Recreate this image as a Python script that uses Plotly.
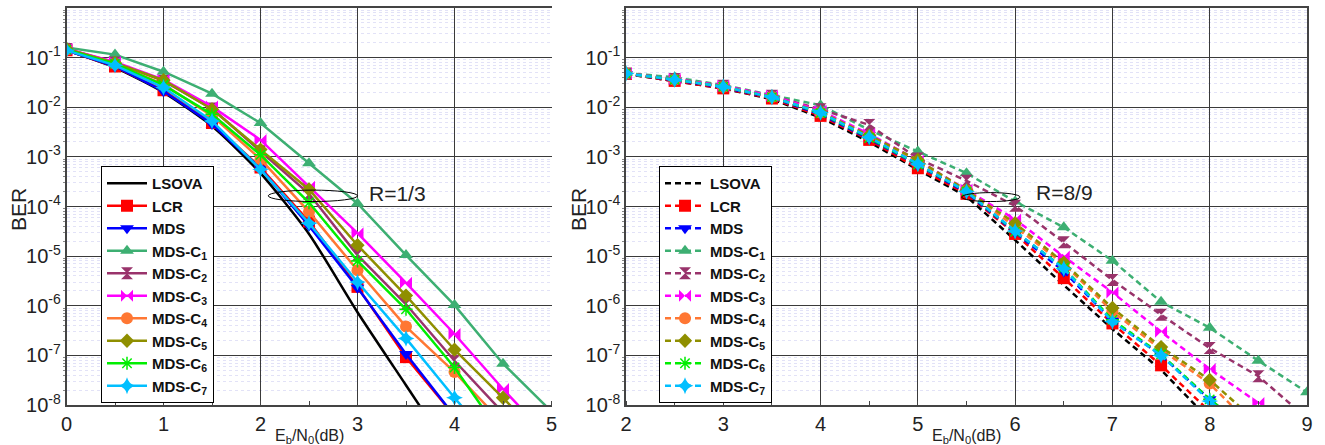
import plotly.graph_objects as go

# ---------------- data ----------------
names = ["LSOVA", "LCR", "MDS", "MDS-C1", "MDS-C2", "MDS-C3", "MDS-C4", "MDS-C5", "MDS-C6", "MDS-C7"]

# Left panel: R = 1/3
left_lsova_x = [0, 0.5, 1, 1.5, 2, 2.5, 3, 3.5, 4]
left_lsova = [0.14, 0.063, 0.020, 0.0042, 4.7e-4, 2.8e-5, 7.4e-7, 2.5e-8, 8.5e-10]
left_x = [0, 0.5, 1, 1.5, 2, 2.5, 3, 3.5, 4, 4.5, 5]
left_lcr = [0.14, 0.066, 0.022, 0.0048, 6.1e-4, 5.0e-5, 2.4e-6, 9.2e-8, 6e-9]
left_mds = [0.14, 0.067, 0.021, 0.0046, 5.8e-4, 4.1e-5, 2.3e-6, 1.07e-7, 6e-9]
left_c1 = [0.16, 0.115, 0.052, 0.0188, 0.0048, 7.4e-4, 1.15e-4, 1.05e-5, 1.03e-6, 6.8e-8, 7.4e-9]
left_c2 = [0.15, 0.080, 0.034, 0.0094, 0.0013, 1.8e-4, 1.05e-5, 1.07e-6, 7.8e-8, 7e-9]
left_c3 = [0.15, 0.082, 0.036, 0.0103, 0.0022, 2.5e-4, 2.9e-5, 2.9e-6, 2.7e-7, 2.1e-8, 1.9e-9]
left_c4 = [0.145, 0.075, 0.029, 0.0067, 9.0e-4, 7.8e-5, 5.2e-6, 3.8e-7, 4.6e-8, 4.3e-9]
left_c5 = [0.15, 0.078, 0.035, 0.0091, 0.0014, 2.2e-4, 1.66e-5, 1.6e-6, 1.3e-7, 1.4e-8, 1.3e-9]
left_c6 = [0.145, 0.075, 0.028, 0.0072, 0.0011, 1.2e-4, 8.0e-6, 8.5e-7, 5.7e-8, 2.3e-9]
left_c7 = [0.14, 0.070, 0.025, 0.0053, 5.6e-4, 4.6e-5, 3.0e-6, 2.2e-7, 1.4e-8, 1e-9]

# Right panel: R = 8/9
right_x = [2, 2.5, 3, 3.5, 4, 4.5, 5, 5.5, 6, 6.5, 7, 7.5, 8, 8.5, 9]
right_lsova = [0.047, 0.034, 0.024, 0.0145, 0.0062, 0.0020, 5.5e-4, 1.6e-4, 2.1e-5, 2.6e-6, 3.4e-7, 5.1e-8, 5e-9]
right_lcr = [0.047, 0.034, 0.024, 0.015, 0.0067, 0.0022, 5.9e-4, 1.8e-4, 2.8e-5, 3.6e-6, 4.4e-7, 6.3e-8, 7.4e-9]
right_mds = [0.047, 0.035, 0.025, 0.0155, 0.0072, 0.0023, 6.8e-4, 1.9e-4, 3.0e-5, 4.9e-6, 5.0e-7, 1.0e-7, 1.3e-8, 2.1e-9]
right_c1 = [0.049, 0.040, 0.028, 0.0177, 0.011, 0.0035, 1.28e-3, 4.7e-4, 1.26e-4, 3.8e-5, 8.1e-6, 1.2e-6, 3.6e-7, 7.8e-8, 1.8e-8]
right_c2 = [0.048, 0.037, 0.027, 0.017, 0.0091, 0.0044, 9.3e-4, 3.3e-4, 1.03e-4, 1.9e-5, 3.3e-6, 6.6e-7, 1.4e-7, 3.8e-8, 5.4e-9]
right_c3 = [0.048, 0.037, 0.027, 0.017, 0.0085, 0.0029, 8.5e-4, 2.2e-4, 5.5e-5, 9.8e-6, 1.86e-6, 3.0e-7, 5.3e-8, 1.1e-8, 2.3e-9]
right_c4 = [0.048, 0.036, 0.026, 0.016, 0.0078, 0.0026, 7.7e-4, 2.1e-4, 3.9e-5, 6.9e-6, 7.7e-7, 1.3e-7, 2.7e-8, 2.8e-9]
right_c5 = [0.048, 0.036, 0.026, 0.016, 0.0080, 0.0027, 8.7e-4, 2.1e-4, 4.6e-5, 7.4e-6, 9.0e-7, 1.47e-7, 3.2e-8, 4.3e-9]
right_c6 = [0.048, 0.036, 0.026, 0.016, 0.0076, 0.0024, 7.0e-4, 2.0e-4, 3.1e-5, 5.8e-6, 5.2e-7, 1.05e-7, 1.3e-8, 2.2e-9]
right_c7 = [0.048, 0.036, 0.026, 0.016, 0.0078, 0.0025, 7.2e-4, 2.0e-4, 3.2e-5, 5.6e-6, 4.8e-7, 1.0e-7, 1.2e-8, 2.0e-9]

y_tickvals = [1e-1, 1e-2, 1e-3, 1e-4, 1e-5, 1e-6, 1e-7, 1e-8]
y_ticktext = ["10<sup>-1</sup>", "10<sup>-2</sup>", "10<sup>-3</sup>", "10<sup>-4</sup>",
              "10<sup>-5</sup>", "10<sup>-6</sup>", "10<sup>-7</sup>", "10<sup>-8</sup>"]
left_xticks = [0, 1, 2, 3, 4, 5]
right_xticks = [2, 3, 4, 5, 6, 7, 8, 9]

# ---------------- styles ----------------
colors = ["#000000", "#ff0000", "#0000ff", "#3daf72", "#99336b", "#ff00ff",
          "#ff7733", "#8f8f00", "#00ee00", "#00bfff"]
symbols = [None, "square", "triangle-down", "triangle-up", "hourglass", "bowtie",
           "circle", "diamond", "asterisk-open", "star-diamond"]
sizes = [0, 12, 12, 12, 12, 12, 12, 11, 11, 12]

left_series = [left_lsova, left_lcr, left_mds, left_c1, left_c2, left_c3, left_c4, left_c5, left_c6, left_c7]
right_series = [right_lsova, right_lcr, right_mds, right_c1, right_c2, right_c3, right_c4, right_c5, right_c6, right_c7]


def label(n):
    if n.startswith("MDS-C"):
        return "<b>MDS-C<sub>%s</sub></b>" % n[5:]
    return "<b>%s</b>" % n


fig = go.Figure()

for i, (n, ys) in enumerate(zip(names, left_series)):
    xs = left_lsova_x if i == 0 else left_x[:len(ys)]
    if i == 0:
        fig.add_trace(go.Scatter(x=xs, y=ys, mode="lines", name=label(n),
                                 line=dict(color=colors[i], width=2.5, shape="spline", smoothing=0.6),
                                 xaxis="x", yaxis="y", legend="legend"))
    else:
        sym = symbols[i]
        mk = dict(symbol=sym, size=sizes[i], color=colors[i])
        if sym == "asterisk-open":
            mk["line"] = dict(color=colors[i], width=1.5)
        fig.add_trace(go.Scatter(x=xs, y=ys, mode="lines+markers", name=label(n),
                                 line=dict(color=colors[i], width=2.5), marker=mk,
                                 xaxis="x", yaxis="y", legend="legend"))

for i, (n, ys) in enumerate(zip(names, right_series)):
    xs = right_x[:len(ys)]
    if i == 0:
        fig.add_trace(go.Scatter(x=xs, y=ys, mode="lines", name=label(n),
                                 line=dict(color=colors[i], width=2.5, dash="6px,4px"),
                                 xaxis="x2", yaxis="y2", legend="legend2"))
    else:
        sym = symbols[i]
        mk = dict(symbol=sym, size=sizes[i], color=colors[i])
        if sym == "asterisk-open":
            mk["line"] = dict(color=colors[i], width=1.5)
        fig.add_trace(go.Scatter(x=xs, y=ys, mode="lines+markers", name=label(n),
                                 line=dict(color=colors[i], width=2.5, dash="6px,4px"), marker=mk,
                                 xaxis="x2", yaxis="y2", legend="legend2"))

W, H = 1325, 445
y_dom = [1 - 405 / H, 1 - 8 / H]
left_dom = [66.5 / W, 551.5 / W]
right_dom = [626 / W, 1307 / W]

minor_vals = [m * 10 ** e for e in range(-8, 0) for m in range(2, 10)]

tickfont = dict(family="Liberation Sans, Arial, sans-serif", size=20, color="#222222")

common_x = dict(showgrid=True, gridcolor="#3a3a3a", gridwidth=1, showline=True, linecolor="#444444",
                linewidth=1.5, mirror=True, ticks="", tickfont=tickfont, zeroline=False,
                automargin=False, tickmode="array",
                minor=dict(dtick=0.5, ticks="inside", ticklen=4, tickcolor="#444444", showgrid=False))
common_y = dict(type="log", range=[-8, 0], showgrid=True, gridcolor="#3a3a3a", gridwidth=1,
                showline=True, linecolor="#444444", linewidth=1.5, ticks="", tickfont=tickfont,
                zeroline=False, automargin=False, tickmode="array", tickvals=y_tickvals,
                ticktext=y_ticktext,
                minor=dict(tickmode="array", tickvals=minor_vals, showgrid=True,
                           gridcolor="#e2e2f7", griddash="dot", gridwidth=1,
                           ticks="outside", ticklen=2, tickcolor="#888888"))

fig.update_layout(
    width=W, height=H, margin=dict(l=0, r=0, t=0, b=0),
    paper_bgcolor="white", plot_bgcolor="white",
    font=dict(family="Liberation Sans, Arial, sans-serif"),
    xaxis=dict(domain=left_dom, range=[0, 5], tickvals=left_xticks, anchor="y", **common_x),
    yaxis=dict(domain=y_dom, anchor="x", mirror=False, **common_y),
    xaxis2=dict(domain=right_dom, range=[2, 9], tickvals=right_xticks, anchor="y2", **common_x),
    yaxis2=dict(domain=y_dom, anchor="x2", mirror=True, **common_y),
    legend=dict(x=101 / W, y=1 - 166 / H, xanchor="left", yanchor="top",
                bgcolor="white", bordercolor="black", borderwidth=1,
                font=dict(family="Liberation Sans, Arial, sans-serif", size=15, color="#111111"),
                itemwidth=40, tracegroupgap=0),
    legend2=dict(x=659 / W, y=1 - 166 / H, xanchor="left", yanchor="top",
                 bgcolor="white", bordercolor="black", borderwidth=1,
                 font=dict(family="Liberation Sans, Arial, sans-serif", size=15, color="#111111"),
                 itemwidth=40, tracegroupgap=0),
    showlegend=True,
)

# R annotations with ellipses
fig.add_shape(type="circle", xref="x", yref="y", x0=2.08, x1=3.0, y0=10 ** -3.67, y1=10 ** -3.90,
              line=dict(color="black", width=1))
fig.add_shape(type="circle", xref="x2", yref="y2", x0=5.45, x1=6.05, y0=10 ** -3.72, y1=10 ** -3.90,
              line=dict(color="black", width=1))
annfont = dict(family="Liberation Sans, Arial, sans-serif", size=21, color="#222222")
fig.add_annotation(x=3.10, y=-3.74, xref="x", yref="y", text="R=1/3", showarrow=False,
                   xanchor="left", yanchor="middle", font=annfont)
fig.add_annotation(x=6.19, y=-3.72, xref="x2", yref="y2", text="R=8/9", showarrow=False,
                   xanchor="left", yanchor="middle", font=annfont)

# axis titles
titlefont = dict(family="Liberation Sans, Arial, sans-serif", size=21, color="#222222")
xtfont = dict(family="Liberation Sans, Arial, sans-serif", size=16, color="#222222")
for cx in [(left_dom[0] + left_dom[1]) / 2, (right_dom[0] + right_dom[1]) / 2]:
    fig.add_annotation(x=cx, y=1 - 436 / H, xref="paper", yref="paper",
                       text="E<sub>b</sub>/N<sub>0</sub>(dB)", showarrow=False,
                       xanchor="center", yanchor="middle", font=xtfont)
for tx in [18 / W, 578 / W]:
    fig.add_annotation(x=tx, y=1 - 210 / H, xref="paper", yref="paper", text="BER",
                       textangle=-90, showarrow=False, xanchor="center", yanchor="middle",
                       font=titlefont)

fig.write_html("out.html", config={"displayModeBar": False},
               post_script="document.body.style.margin='0px';document.body.style.overflow='hidden';")
